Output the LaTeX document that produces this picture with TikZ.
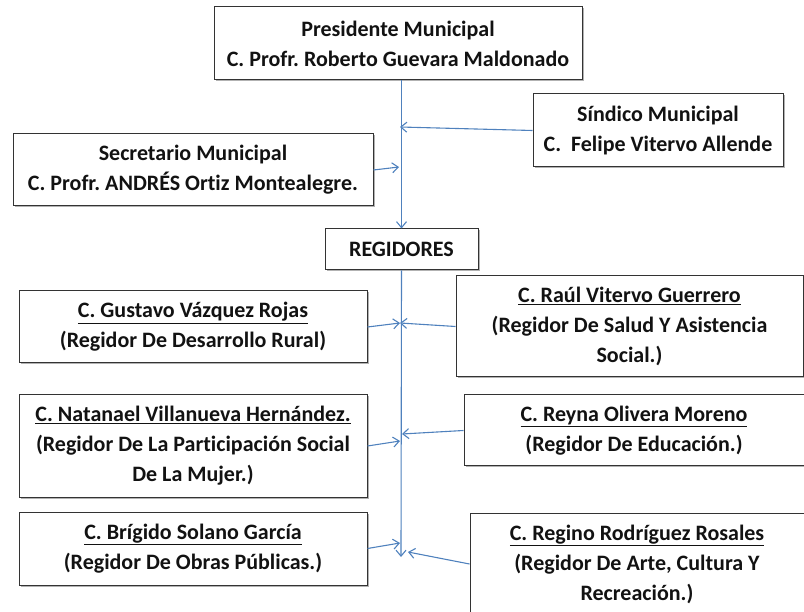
\documentclass[tikz,border=0pt]{standalone}
\usepackage{fontspec}
\setmainfont{Carlito}[Ligatures=NoCommon]
\usetikzlibrary{arrows.meta,shadows}
\definecolor{azul}{RGB}{79,129,189}
\definecolor{tinta}{RGB}{18,18,18}
\frenchspacing

\begin{document}
\begin{tikzpicture}[x=1pt,y=-1pt]
        \tikzstyle{puesto}=[draw=black!80,line width=1pt,fill=white,text=tinta,inner sep=0pt,align=center,font=\bfseries\fontsize{22}{30}\selectfont,drop shadow={shadow xshift=1.5pt,shadow yshift=-1.5pt,fill=black!30,opacity=1}]
        \tikzstyle{linea}=[draw=azul,line width=1.1pt,-{Straight Barb[length=6pt,width=10pt]}]
        \useasboundingbox (0,0) rectangle (804,612);
        \begin{scope}
                 \node [puesto,minimum width=368pt,minimum height=73pt] (pres) at (398,43.5) {Presidente Municipal\\C. Profr. Roberto Guevara Maldonado};
                 \node [puesto,minimum width=250pt,minimum height=73pt] (sind) at (658,130.5) {Síndico Municipal\\C.\ \ Felipe Vitervo Allende};
                 \node [puesto,minimum width=360pt,minimum height=72pt] (secr) at (193,170) {Secretario Municipal\\C. Profr. ANDRÉS Ortiz Montealegre.};
                 \node [puesto,minimum width=153pt,minimum height=41pt] (regs) at (401.5,249.5) {REGIDORES};

                 \node [puesto,minimum width=348pt,minimum height=72pt] (gus) at (193,327) {\underline{C. Gustavo Vázquez Rojas}\\(Regidor De Desarrollo Rural)};
                 \node [puesto,minimum width=347pt,minimum height=101pt] (raul) at (629.5,326.5) {\underline{C. Raúl Vitervo Guerrero}\\(Regidor De Salud Y Asistencia\\Social.)};
                 \node [puesto,minimum width=348pt,minimum height=102pt] (nat) at (193,446) {\underline{C. Natanael Villanueva Hernández.}\\(Regidor De La Participación Social\\De La Mujer.)};
                 \node [puesto,minimum width=340pt,minimum height=71pt] (reyna) at (634,430.5) {\underline{C. Reyna Olivera Moreno}\\(Regidor De Educación.)};
                 \node [puesto,minimum width=348pt,minimum height=73pt] (bri) at (193,548.5) {\underline{C. Brígido Solano García}\\(Regidor De Obras Públicas.)};
                 \node [puesto,minimum width=334pt,minimum height=102pt] (regino) at (637,564) {\underline{C. Regino Rodríguez Rosales}\\(Regidor De Arte, Cultura Y\\Recreación.)};

                 % puntos sobre la linea central
                 \coordinate (j1) at (400,127);
                 \coordinate (j2) at (399,167);
                 \coordinate (j3) at (400,323);
                 \coordinate (j4) at (400,441);
                 \coordinate (j5) at (402,434);
                 \coordinate (j6) at (400,543);
                 \coordinate (j7) at (408,552);
                 \coordinate (fin) at (401,557);

                 \path[linea] (pres.south -| regs.north) to (regs.north);
                 \path[linea] (regs.south) to (fin);

                 \path[linea] (sind.west) to (j1);
                 \path[linea] (secr.east) to (j2);
                 \path[linea] (gus.east) to (j3);
                 \path[linea] (raul.west) to (j3);
                 \path[linea] (nat.east) to (j4);
                 \path[linea] (reyna.west) to (j5);
                 \path[linea] (bri.east) to (j6);
                 \path[linea] (regino.west) to (j7);
        \end{scope}
\end{tikzpicture}
\end{document}
